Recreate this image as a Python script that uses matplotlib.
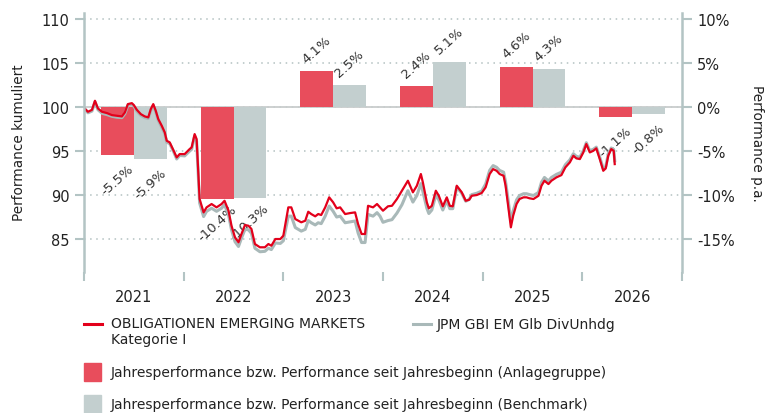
import matplotlib
matplotlib.use("Agg")
import matplotlib.pyplot as plt
from matplotlib.lines import Line2D
from matplotlib.patches import Rectangle

years = ['2021', '2022', '2023', '2024', '2025', '2026']
fund_ytd = [-5.5, -10.4, 4.1, 2.4, 4.6, -1.1]
bench_ytd = [-5.9, -10.3, 2.5, 5.1, 4.3, -0.8]

# time in years since start of 2021
t = [0.00, 0.04, 0.08, 0.11, 0.14, 0.18, 0.23, 0.28, 0.33, 0.38,
     0.41, 0.44, 0.48, 0.50, 0.53, 0.57, 0.61, 0.645, 0.67, 0.695,
     0.72, 0.745, 0.78, 0.81, 0.83, 0.86, 0.90, 0.93, 0.96,
     1.01, 1.06, 1.08, 1.11, 1.13, 1.16, 1.20, 1.23, 1.28, 1.33,
     1.38, 1.41, 1.45, 1.48, 1.515, 1.55, 1.58, 1.615, 1.65, 1.68,
     1.715, 1.765, 1.815, 1.85, 1.88, 1.92, 1.97,
     2.00, 2.05, 2.08, 2.12, 2.15, 2.18, 2.22, 2.25, 2.28, 2.32,
     2.35, 2.38, 2.42, 2.46, 2.50, 2.535, 2.57, 2.62, 2.67, 2.72,
     2.75, 2.785, 2.82, 2.85, 2.90, 2.94, 2.97,
     3.00, 3.05, 3.09, 3.14, 3.19, 3.25, 3.30, 3.34, 3.38, 3.40,
     3.44, 3.46, 3.49, 3.53, 3.56, 3.60, 3.64, 3.67, 3.70, 3.74,
     3.79, 3.83, 3.865, 3.89, 3.94, 3.99,
     4.03, 4.07, 4.105, 4.14, 4.17, 4.21, 4.23, 4.256, 4.283, 4.306,
     4.34, 4.37, 4.41, 4.44, 4.47, 4.51, 4.56, 4.59, 4.62, 4.66,
     4.69, 4.74, 4.79, 4.83, 4.875, 4.91, 4.94, 4.975,
     5.01, 5.04, 5.075, 5.11, 5.14, 5.175, 5.21, 5.235, 5.26, 5.29,
     5.315, 5.325]

fund = [99.90, 99.47, 99.69, 100.72, 99.85, 99.47, 99.32, 99.09, 99.01, 98.94,
        99.40, 100.34, 100.45, 100.23, 99.69, 99.20, 98.94, 98.83, 99.77, 100.34,
        99.58, 98.64, 97.88, 97.13, 96.17, 95.99, 95.03, 94.28, 94.66,
        94.66, 95.23, 95.42, 96.93, 96.36, 89.55, 88.03, 88.60, 88.98, 88.60,
        88.98, 89.35, 88.22, 86.51, 85.19, 84.63, 85.57, 86.59, 86.51, 86.14,
        84.43, 84.06, 84.06, 84.43, 84.24, 85.00, 85.00,
        85.38, 88.60, 88.60, 87.27, 87.08, 86.90, 87.08, 88.10, 87.84, 87.58,
        87.84, 87.73, 88.60, 89.74, 89.17, 88.49, 88.60, 87.84, 87.95, 88.03,
        86.70, 85.57, 85.57, 88.78, 88.60, 88.98, 88.60,
        88.22, 88.72, 88.78, 89.55, 90.49, 91.63, 90.31, 91.06, 92.39, 91.44,
        89.17, 88.49, 88.78, 90.49, 89.92, 88.72, 89.74, 88.78, 88.72, 91.06,
        90.31, 89.35, 89.47, 89.92, 90.00, 90.23,
        90.88, 92.39, 92.95, 92.76, 92.39, 92.19, 91.06, 88.78, 86.33, 87.65,
        88.98, 89.55, 89.74, 89.74, 89.63, 89.55, 89.92, 91.06, 91.63, 91.25,
        91.63, 92.01, 92.27, 93.15, 93.72, 94.47, 94.17, 94.09,
        94.85, 95.80, 94.85, 95.03, 95.31, 94.09, 92.76, 93.03, 94.47, 95.23,
        95.03, 93.52]

bench = [99.90, 99.35, 99.55, 100.60, 99.70, 99.30, 99.15, 98.95, 98.85, 98.80,
         99.25, 100.20, 100.30, 100.10, 99.55, 99.05, 98.80, 98.70, 99.60, 100.20,
         99.45, 98.50, 97.70, 97.00, 96.00, 95.85, 94.90, 94.10, 94.50,
         94.45, 95.00, 95.20, 96.70, 96.10, 89.10, 87.55, 88.15, 88.50, 88.15,
         88.50, 88.90, 87.75, 86.05, 84.70, 84.15, 85.10, 86.10, 86.05, 85.65,
         83.95, 83.55, 83.60, 83.95, 83.80, 84.55, 84.50,
         84.80, 87.60, 87.60, 86.30, 86.10, 85.90, 86.10, 87.10, 86.85, 86.60,
         86.85, 86.75, 87.60, 88.75, 88.15, 87.50, 87.60, 86.85, 86.95, 87.05,
         85.70, 84.60, 84.60, 87.80, 87.60, 88.00, 87.60,
         86.90, 87.10, 87.20, 87.95, 88.90, 90.50, 89.20, 89.95, 91.30, 90.40,
         88.50, 87.90, 88.30, 90.00, 89.45, 88.30, 89.35, 88.45, 88.45, 90.90,
         90.20, 89.30, 89.50, 90.05, 90.20, 90.45,
         91.25, 92.80, 93.35, 93.15, 92.80, 92.60, 91.50, 89.40, 87.00, 88.20,
         89.45, 89.95, 90.15, 90.15, 90.05, 89.95, 90.30, 91.45, 92.00, 91.60,
         92.00, 92.35, 92.60, 93.45, 94.00, 94.70, 94.40, 94.30,
         95.05, 95.95, 95.05, 95.20, 95.45, 94.30, 93.00, 93.25, 94.65, 95.35,
         95.15, 93.90]

left_ticks = [85, 90, 95, 100, 105, 110]
right_ticks = [-15, -10, -5, 0, 5, 10]

RED_LINE = '#e3001b'
GREY_LINE = '#a9b9b9'
RED_BAR = '#e84d5c'
GREY_BAR = '#c3cfcf'
SPINE = '#b3c4c4'
TEXT = '#222222'

W, H = 765, 414


def px(x, y):
    return x / W, 1 - y / H


def main():
    plt.rcParams['font.family'] = ['DejaVu Sans']
    fig = plt.figure(figsize=(W / 100, H / 100), dpi=100)
    ax = fig.add_axes([84 / W, 1 - 273 / H, 598 / W, 259 / H])
    ax2 = ax.twinx()

    # bars + grid on the right (%) axis
    ax2.set_ylim(-18.75, 10.7)
    ax2.set_axisbelow(True)
    ax2.yaxis.grid(True, linestyle=(0, (1, 3)), color='#b3c1c1', lw=1.1)
    ax2.axhline(0, color='#c9cdcd', lw=1.3, zorder=1.5)
    xs = list(range(len(years)))
    xr = [i + 0.335 for i in xs]
    xg = [i + 0.665 for i in xs]
    ax2.bar(xr, fund_ytd, width=0.33, color=RED_BAR, zorder=2)
    ax2.bar(xg, bench_ytd, width=0.33, color=GREY_BAR, zorder=2)
    for x, v in list(zip(xr, fund_ytd)) + list(zip(xg, bench_ytd)):
        off = 16 if v >= 0 else -17.5
        ax2.annotate(f'{v:.1f}%', xy=(x, v), xytext=(0, off), textcoords='offset points',
                     ha='center', va='center', rotation=42, fontsize=9.5, color='#333333')

    ax2.set_yticks(right_ticks)
    ax2.set_yticklabels([f'{v}%' for v in right_ticks])

    # cumulative lines on the left axis, drawn above the bars
    ax.set_zorder(ax2.get_zorder() + 1)
    ax.patch.set_visible(False)
    ax.plot(t, bench, color=GREY_LINE, lw=2.2)
    ax.plot(t, fund, color=RED_LINE, lw=1.6)
    ax.set_ylim(81.25, 110.7)
    ax.set_xlim(0, 6)
    ax.set_yticks(left_ticks)

    ax.set_xticks(range(7))
    ax.set_xticklabels([])
    ax.set_xticks([i + 0.5 for i in xs], minor=True)
    ax.set_xticklabels(years, minor=True)
    ax.tick_params(axis='x', which='major', length=6.5, width=1.5, color=SPINE)
    ax.tick_params(axis='x', which='minor', length=0, pad=12, labelsize=10.5, labelcolor=TEXT)
    ax.tick_params(axis='y', length=6.5, width=1.5, color=SPINE, pad=4,
                   labelsize=10.5, labelcolor=TEXT)
    ax2.tick_params(axis='y', length=7, width=1.5, color=SPINE, pad=4,
                    labelsize=10.5, labelcolor=TEXT)

    for a in (ax, ax2):
        for s in ('top', 'bottom'):
            a.spines[s].set_visible(False)
    ax.spines['right'].set_visible(False)
    ax2.spines['left'].set_visible(False)
    ax.spines['left'].set_color(SPINE)
    ax.spines['left'].set_linewidth(1.8)
    ax2.spines['right'].set_color(SPINE)
    ax2.spines['right'].set_linewidth(1.8)

    fig.text(*px(19, 143), 'Performance kumuliert', rotation=90, ha='center', va='center',
             fontsize=9.8, color=TEXT)
    fig.text(*px(757, 143), 'Performance p.a.', rotation=270, ha='center', va='center',
             fontsize=9.8, color=TEXT)

    # legend
    fs = 10
    fig.add_artist(Line2D([84 / W, 102 / W], [1 - 325 / H] * 2, color=RED_LINE, lw=2.2))
    fig.text(*px(111, 317), 'OBLIGATIONEN EMERGING MARKETS\nKategorie I', ha='left', va='top',
             fontsize=fs, color=TEXT, linespacing=1.15)
    fig.add_artist(Line2D([413 / W, 431 / W], [1 - 325 / H] * 2, color=GREY_LINE, lw=2.2))
    fig.text(*px(437, 325), 'JPM GBI EM Glb DivUnhdg', ha='left', va='center',
             fontsize=fs, color=TEXT)
    fig.add_artist(Rectangle(px(84, 382), 17 / W, 18 / H, color=RED_BAR))
    fig.text(*px(111, 373), 'Jahresperformance bzw. Performance seit Jahresbeginn (Anlagegruppe)',
             ha='left', va='center', fontsize=fs, color=TEXT)
    fig.add_artist(Rectangle(px(84, 414), 17 / W, 18 / H, color=GREY_BAR))
    fig.text(*px(111, 405), 'Jahresperformance bzw. Performance seit Jahresbeginn (Benchmark)',
             ha='left', va='center', fontsize=fs, color=TEXT)

    fig.savefig('out.png', dpi=100)


if __name__ == '__main__':
    main()
